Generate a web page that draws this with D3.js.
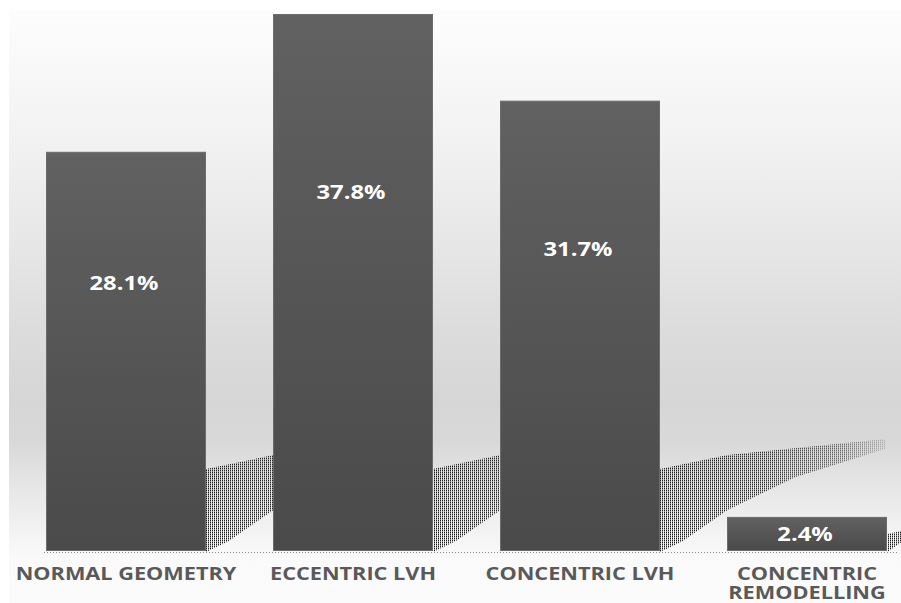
<!DOCTYPE html>
<html>
<head>
<meta charset="utf-8">
<script src="https://cdn.jsdelivr.net/npm/d3@7/dist/d3.min.js"></script>
<style>
  html, body { margin: 0; padding: 0; background: #ffffff; }
  svg { display: block; }
</style>
</head>
<body>
<div id="chart"></div>
<script>
// ---- data ----
const categories = ["NORMAL GEOMETRY", "ECCENTRIC LVH", "CONCENTRIC LVH", "CONCENTRIC\nREMODELLING"];
const values = [28.1, 37.8, 31.7, 2.4];
const valueLabels = ["28.1%", "37.8%", "31.7%", "2.4%"];

const W = 901, H = 603;
const svg = d3.select("#chart").append("svg").attr("width", W).attr("height", H);
const defs = svg.append("defs");

// background gradient
const bg = defs.append("linearGradient").attr("id", "bg")
  .attr("gradientUnits", "userSpaceOnUse").attr("x1", 0).attr("x2", 0).attr("y1", 10).attr("y2", 603);
[[10,"#fdfdfd"],[60,"#f9f9f9"],[150,"#f1f1f1"],[250,"#e6e6e6"],[330,"#dcdcdc"],[400,"#d6d6d6"],
 [440,"#d8d8d8"],[490,"#e7e7e7"],[540,"#f5f5f5"],[560,"#fafafa"],[603,"#fbfbfb"]]
 .forEach(([yy,c]) => bg.append("stop").attr("offset", ((yy-10)/593)).attr("stop-color", c));

// bar gradient
const bgr = defs.append("linearGradient").attr("id", "barg").attr("x1",0).attr("x2",0).attr("y1",0).attr("y2",1);
bgr.append("stop").attr("offset", 0).attr("stop-color", "#616161");
bgr.append("stop").attr("offset", 1).attr("stop-color", "#4a4a4a");

// dot pattern
const pat = defs.append("pattern").attr("id", "dots").attr("patternUnits", "userSpaceOnUse")
  .attr("x", 0).attr("y", 0).attr("width", 2).attr("height", 2);
pat.append("rect").attr("x", 0).attr("y", 0).attr("width", 1).attr("height", 1).attr("fill", "#1a1a1a");
pat.append("rect").attr("x", 0).attr("y", 1).attr("width", 1).attr("height", 1).attr("fill", "#3a3a3a").attr("opacity", 0.55);

// shadow fade
const sg = defs.append("linearGradient").attr("id", "shfade").attr("x1",0).attr("x2",1).attr("y1",0).attr("y2",0);
[[0,1],[0.45,0.9],[0.8,0.6],[1,0.2]].forEach(([o,a]) =>
  sg.append("stop").attr("offset", o).attr("stop-color", "#fff").attr("stop-opacity", a));

svg.append("rect").attr("x", 9).attr("y", 10).attr("width", W - 9).attr("height", H - 10).attr("fill", "url(#bg)");

// scales
const x = d3.scaleBand().domain(categories).range([46, 887]).paddingInner(67/227).paddingOuter(0);
const y = d3.scaleLinear().domain([0, 37.8]).range([551, 14]);
const base = y(0);

// shadows
const shadowG = svg.append("g");
categories.forEach((c, i) => {
  const r = x(c) + x.bandwidth();
  const h = base - y(values[i]);
  const a = Math.min(82, h * 0.5);
  const k = a / 82;
  const L = (x.step() - 2) * k;
  const pts = [[r, base + 1], [r, base - a], [r + L * 0.3, base - a - 14 * k], [r + L, base - a - 30 * k],
               [r + L, base - a - 20 * k], [r + L * 0.6, base - a * 0.9], [r + L * 0.3, base - a * 0.5],
               [r + L * 0.1, base - a * 0.12]];
  const id = "m" + i;
  const m = defs.append("mask").attr("id", id).attr("maskUnits", "userSpaceOnUse")
    .attr("x", 0).attr("y", 0).attr("width", W).attr("height", H);
  m.append("rect").attr("x", r).attr("y", base - a - 32 * k).attr("width", L + 1).attr("height", a + 34 * k)
    .attr("fill", "url(#shfade)");
  shadowG.append("polygon").attr("points", pts.map(p => p.join(",")).join(" "))
    .attr("fill", "url(#dots)").attr("mask", `url(#${id})`);
});

// dotted baseline
svg.append("line").attr("x1", 44).attr("x2", 898).attr("y1", base + 1.5).attr("y2", base + 1.5)
  .attr("stroke", "#8a8a8a").attr("stroke-width", 1).attr("stroke-dasharray", "1,2");

// bars
svg.append("g").selectAll("rect").data(categories).join("rect")
  .attr("x", d => x(d) + 0.5)
  .attr("y", (d, i) => y(values[i]) + 0.5)
  .attr("width", x.bandwidth() - 1)
  .attr("height", (d, i) => base - y(values[i]) - 1)
  .attr("fill", "url(#barg)")
  .attr("stroke", "#6c6c6c").attr("stroke-width", 1);

// value labels
const SX = 1.22;
svg.append("g").selectAll("text").data(categories).join("text")
  .attr("transform", (d, i) => {
    const top = y(values[i]), h = base - top;
    const yy = h < 60 ? top + h / 2 + 7.5 : top + h * 0.345;
    return `translate(${x(d) + x.bandwidth() / 2 - 2},${yy}) scale(${SX},1)`;
  })
  .attr("text-anchor", "middle")
  .attr("font-family", "'Open Sans', sans-serif").attr("font-weight", 700).attr("font-size", 19.5)
  .attr("fill", "#ffffff")
  .text((d, i) => valueLabels[i]);

// category labels
svg.append("g").selectAll("text").data(categories).join("text")
  .attr("transform", d => `translate(${x(d) + x.bandwidth() / 2},580) scale(1.24,1)`)
  .attr("text-anchor", "middle")
  .attr("font-family", "'Open Sans', sans-serif").attr("font-weight", 700).attr("font-size", 17.5)
  .attr("fill", "#595959")
  .each(function(d) {
    const t = d3.select(this);
    d.split("\n").forEach((line, j) => {
      t.append("tspan").attr("x", 0).attr("dy", j === 0 ? 0 : 19).text(line);
    });
  });
</script>
</body>
</html>
